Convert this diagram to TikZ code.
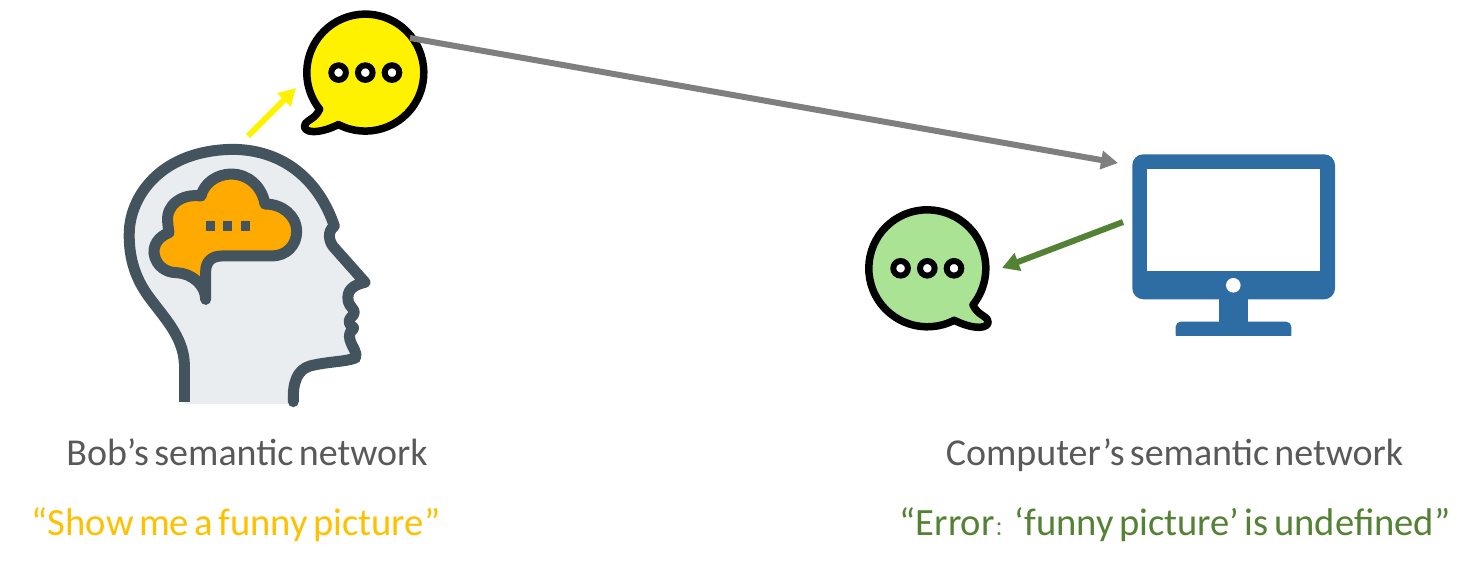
\documentclass[tikz,border=0pt]{standalone}
\usepackage{fontspec}
\setmainfont[WordSpace=0.62]{Carlito}
\newfontfamily\cjkfont{Noto Sans CJK SC}
\usetikzlibrary{arrows.meta}
\definecolor{graytxt}{HTML}{595959}
\definecolor{goldtxt}{HTML}{FFC000}
\definecolor{greentxt}{HTML}{548235}
\definecolor{arrowgray}{HTML}{7F7F7F}
\definecolor{headline}{HTML}{44545E}
\definecolor{headfill}{HTML}{E9EDF0}
\definecolor{cloudfill}{HTML}{FFAA00}
\definecolor{screenblue}{HTML}{2E6CA4}
\definecolor{bubbleyellow}{HTML}{FFF200}
\definecolor{bubblegreen}{HTML}{ABE394}
\tikzset{
  lbl/.style={font=\fontsize{38}{38}\selectfont, anchor=base, inner sep=0pt},
  saylbl/.style={font=\fontsize{38.6}{38.6}\selectfont, anchor=base, inner sep=0pt},
  conn/.style={line width=#1, -{Triangle[length=17pt,width=18pt]}},
  headstroke/.style={draw=headline, line width=11pt, line cap=round, line join=round},
}
\newcommand{\speechbubble}[4]{%
  \begin{scope}[shift={(#1,#2)}, xscale=#3]
    \draw[draw=black, fill=#4, line width=7.5pt, line join=round]
      (117.4:58.5) arc[start angle=117.4, end angle=-218.7, radius=58.5]
      .. controls (-50,46) and (-57,47) .. (-60,51)
      .. controls (-63,56) and (-58,59) .. (-52,59)
      .. controls (-44,59) and (-35,56) .. (-27,52) -- cycle;
    \foreach \dx in {-26.7,0,26.7}
      \draw[draw=black, fill=white, line width=6pt] (\dx,0) circle (7.3);
  \end{scope}}
\begin{document}
\begin{tikzpicture}[x=1pt,y=-1pt]
\useasboundingbox (0,0) rectangle (1472,573);
% head
\begin{scope}[shift={(100,130)}, x=0.3333pt, y=-0.3333pt]
  \fill[headfill] (253,822) -- (253,700) .. controls (250,620) and (190,560) .. (150,505)
    .. controls (100,440) and (85,370) .. (88,300)
    .. controls (95,190) and (190,60) .. (400,58)
    .. controls (560,60) and (660,160) .. (705,290)
    -- (690,330) -- (795,457) -- (745,490) -- (760,548) -- (750,570) -- (760,595) -- (750,620) -- (768,680)
    -- (640,705) .. controls (600,715) and (580,750) .. (580,822) -- cycle;
  \draw[headstroke, line cap=butt] (253,815) -- (253,700);
  \draw[headstroke] (253,700) .. controls (250,620) and (190,560) .. (150,505)
    .. controls (100,440) and (85,370) .. (88,300)
    .. controls (95,190) and (190,60) .. (400,58)
    .. controls (560,60) and (660,160) .. (703,288)
    .. controls (680,305) and (688,335) .. (700,350)
    -- (795,457)
    .. controls (760,465) and (738,480) .. (745,515)
    .. controls (748,530) and (768,540) .. (762,552)
    .. controls (758,560) and (745,565) .. (748,578)
    .. controls (750,590) and (765,590) .. (760,597)
    .. controls (752,605) and (745,610) .. (750,630)
    .. controls (755,650) and (775,670) .. (766,684)
    .. controls (740,695) and (680,695) .. (630,708)
    .. controls (590,720) and (578,760) .. (580,815);
  \draw[headstroke, fill=cloudfill] (317,508) -- (317,425)
    .. controls (317,395) and (335,378) .. (365,378)
    -- (515,378)
    .. controls (560,378) and (590,345) .. (590,305)
    .. controls (590,255) and (545,222) .. (495,222)
    .. controls (485,165) and (440,132) .. (395,132)
    .. controls (350,132) and (312,160) .. (303,198)
    .. controls (245,190) and (198,225) .. (203,275)
    .. controls (204,290) and (206,300) .. (207,308)
    .. controls (175,320) and (160,345) .. (162,370)
    .. controls (168,410) and (200,428) .. (230,428)
    .. controls (275,430) and (317,465) .. (317,508);
  \foreach \sx in {317,370,422}
    \fill[headline] (\sx,272) rectangle ++(27,30);
\end{scope}
% bubbles
\speechbubble{365.3}{72.6}{1}{bubbleyellow}
\speechbubble{927.3}{268.3}{-1}{bubblegreen}
% monitor
\fill[screenblue, rounded corners=11pt] (1132.3,154.3) rectangle (1335,299.3);
\fill[white] (1146.7,169.3) rectangle (1320.3,271);
\fill[white] (1233.3,285.3) circle (7.3);
\fill[screenblue] (1219,295) rectangle (1248,325);
\fill[screenblue, rounded corners=5pt] (1175.7,340) -- (1175.7,321.7) -- (1291.3,321.7) -- (1291.3,340) -- cycle;
\fill[white] (1170,336) rectangle (1297,342);
% connectors
\coordinate (bobStart) at (248,136);
\coordinate (bobEnd) at (296,88);
\coordinate (sendStart) at (410,38);
\coordinate (sendEnd) at (1118,163);
\coordinate (replyStart) at (1123,222);
\coordinate (replyEnd) at (1002,268);
\draw[conn=6pt, yellow] (bobStart) -- (bobEnd);
\draw[conn=6pt, arrowgray] (sendStart) -- (sendEnd);
\draw[conn=6pt, greentxt] (replyStart) -- (replyEnd);
% labels
\node[lbl, text=graytxt] (bobLabel) at (247,465.5) {Bob’s semantic network};
\node[saylbl, text=goldtxt] (bobSay) at (236,535.5) {“Show me a funny picture”};
\node[lbl, text=graytxt] (compLabel) at (1174.5,465.5) {Computer’s semantic network};
\node[saylbl, text=greentxt] (compSay) at (1175,535.5) {“Error{\cjkfont\fontsize{20}{20}\selectfont ：}‘funny picture’ is undefined”};
\end{tikzpicture}
\end{document}
